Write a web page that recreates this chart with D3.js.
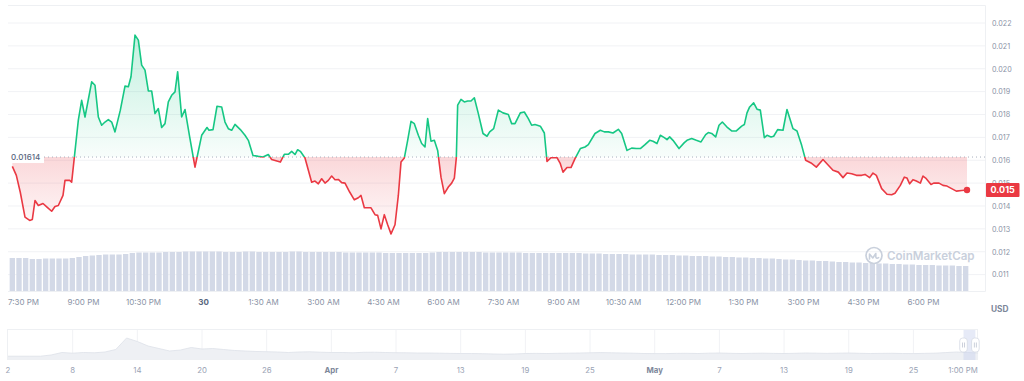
<!DOCTYPE html>
<html><head><meta charset="utf-8">
<script src="https://cdn.jsdelivr.net/npm/d3@7"></script>
<style>
html,body{margin:0;padding:0;background:#fff;}
svg{display:block;font-family:Inter,"Noto Sans",sans-serif;}
</style></head><body>
<svg id="c" width="1024" height="381"></svg>
<script>
// ---- DATA ----
// price series: [minutes since 00:00 of Mar 29, price USD]
const priceSeries = [
[1154,0.01573],[1160,0.01534],[1166,0.01459],[1173,0.01351],[1180,0.01337],[1184,0.01341],[1188,0.01424],[1193,0.01402],[1200,0.01411],[1206,0.01395],
[1213,0.01377],[1218,0.01398],[1223,0.01402],[1230,0.01446],[1233,0.01512],[1240,0.01512],[1243,0.01504],[1253,0.01775],[1258,0.01862],[1263,0.01789],
[1273,0.01943],[1278,0.01928],[1283,0.01789],[1288,0.01753],[1293,0.01767],[1298,0.01778],[1303,0.01767],[1308,0.01724],[1316,0.01819],[1323,0.01924],
[1328,0.01921],[1332,0.01965],[1338,0.02147],[1343,0.02125],[1348,0.02016],[1353,0.01994],[1358,0.01903],[1363,0.01903],[1368,0.01804],[1373,0.01826],
[1378,0.01743],[1383,0.01760],[1388,0.01855],[1393,0.01884],[1398,0.01899],[1402,0.01987],[1408,0.01789],[1413,0.01822],[1420,0.01702],[1428,0.01570],
[1438,0.01709],[1446,0.01743],[1449,0.01731],[1455,0.01734],[1461,0.01836],[1468,0.01833],[1473,0.01767],[1478,0.01738],[1483,0.01731],[1488,0.01757],
[1496,0.01734],[1503,0.01709],[1508,0.01687],[1515,0.01621],[1523,0.01617],[1530,0.01614],[1538,0.01625],[1543,0.01603],[1556,0.01592],[1562,0.01626],
[1568,0.01626],[1573,0.01639],[1578,0.01625],[1582,0.01646],[1586,0.01639],[1593,0.01610],[1603,0.01504],[1608,0.01509],[1613,0.01497],[1618,0.01519],
[1623,0.01500],[1628,0.01512],[1633,0.01531],[1638,0.01515],[1643,0.01516],[1648,0.01502],[1653,0.01500],[1660,0.01461],[1667,0.01427],[1673,0.01436],
[1677,0.01446],[1682,0.01392],[1692,0.01392],[1698,0.01362],[1702,0.01359],[1707,0.01300],[1712,0.01362],[1717,0.01318],[1722,0.01278],[1728,0.01318],
[1733,0.01446],[1737,0.01592],[1742,0.01610],[1747,0.01687],[1752,0.01770],[1757,0.01760],[1763,0.01709],[1768,0.01673],[1773,0.01658],[1777,0.01782],
[1782,0.01683],[1787,0.01687],[1792,0.01643],[1797,0.01526],[1802,0.01454],[1808,0.01483],[1813,0.01500],[1817,0.01522],[1820,0.01611],[1822,0.01841],
[1827,0.01866],[1832,0.01855],[1837,0.01859],[1842,0.01859],[1847,0.01873],[1853,0.01804],[1860,0.01717],[1866,0.01705],[1870,0.01724],[1876,0.01738],
[1883,0.01819],[1890,0.01807],[1898,0.01800],[1903,0.01760],[1908,0.01760],[1916,0.01807],[1922,0.01811],[1928,0.01782],[1933,0.01753],[1938,0.01756],
[1946,0.01749],[1952,0.01719],[1956,0.01595],[1962,0.01611],[1971,0.01611],[1976,0.01585],[1980,0.01548],[1986,0.01568],[1992,0.01568],[1998,0.01607],
[2006,0.01651],[2013,0.01658],[2018,0.01668],[2028,0.01717],[2036,0.01731],[2042,0.01724],[2048,0.01724],[2055,0.01719],[2063,0.01735],[2068,0.01717],
[2076,0.01643],[2083,0.01653],[2090,0.01651],[2096,0.01651],[2103,0.01668],[2110,0.01687],[2115,0.01683],[2121,0.01673],[2126,0.01709],[2132,0.01699],
[2136,0.01690],[2140,0.01702],[2145,0.01687],[2154,0.01651],[2162,0.01677],[2166,0.01687],[2173,0.01695],[2180,0.01687],[2187,0.01680],[2194,0.01712],
[2198,0.01721],[2203,0.01717],[2209,0.01702],[2214,0.01753],[2219,0.01767],[2226,0.01745],[2233,0.01728],[2240,0.01728],[2248,0.01749],[2252,0.01756],
[2256,0.01807],[2260,0.01833],[2266,0.01851],[2271,0.01823],[2276,0.01819],[2282,0.01699],[2286,0.01709],[2292,0.01702],[2296,0.01705],[2302,0.01734],
[2310,0.01731],[2316,0.01822],[2325,0.01738],[2331,0.01728],[2338,0.01665],[2344,0.01600],[2352,0.01588],[2360,0.01570],[2370,0.01603],[2378,0.01578],
[2385,0.01556],[2393,0.01548],[2400,0.01524],[2406,0.01544],[2413,0.01541],[2420,0.01534],[2428,0.01534],[2433,0.01538],[2440,0.01524],[2445,0.01544],
[2450,0.01534],[2458,0.01476],[2466,0.01451],[2473,0.01449],[2478,0.01456],[2486,0.01490],[2492,0.01526],[2496,0.01522],[2500,0.01497],[2505,0.01515],
[2510,0.01509],[2516,0.01500],[2520,0.01531],[2524,0.01522],[2532,0.01494],[2536,0.01500],[2544,0.01500],[2550,0.01490],[2556,0.01487],[2563,0.01476],
[2570,0.01465],[2578,0.01468],[2586,0.01470]
];
const baselinePrice = 0.01614;
const baselineLabel = "0.01614";
const lastPriceLabel = "0.015";

// volume bars, one every 10 minutes starting at minute 1154 (relative units)
const volumeStart = 1154, volumeStep = 10;
const volumeValues = [
33,33,33,32,32,32.5,32.5,32.5,32.5,33,34,35,35.5,36,36.5,36.5,36.5,37,38,38.5,38.5,38.5,38.5,39,39,39,39.5,39.5,39.5,39.5,39.5,
39.5,39,39,39,39.5,39.5,39,39,39,39,39,39.5,39.5,39,39,
39,39,39,39,38.5,38.5,38.5,38.5,38.5,38.5,38,38,38,38,38,
38,38,38.5,39,39,39,39,39,39,39,
38.5,38.5,38.5,38.5,38.5,38.5,38,38,38,38,38,38,38,38,38,
37.5,37.5,37.5,37,37,37,37,36.5,36.5,36.5,36.5,36,36,36,35.5,
35.5,35,35,35,34.5,34.5,34,34,33.5,33.5,33,33,32.5,32.5,32,
31.5,31.5,31,30.5,30.5,30,30,29.5,29,29,28.5,28.5,28,28,27.5,
27.5,27,27,26.5,26.5,26,26,26,25.5,25.5,25.5,25,25
];

const yTickValues = [0.011,0.012,0.013,0.014,0.015,0.016,0.017,0.018,0.019,0.020,0.021,0.022];
const xTickTimes  = [1170,1260,1350,1440,1530,1620,1710,1800,1890,1980,2070,2160,2250,2340,2430,2520];
const xTickLabels = ["7:30 PM","9:00 PM","10:30 PM","30","1:30 AM","3:00 AM","4:30 AM","6:00 AM","7:30 AM","9:00 AM","10:30 AM","12:00 PM","1:30 PM","3:00 PM","4:30 PM","6:00 PM"];
const xBoldLabels = ["30"];
const currencyLabel = "USD";

// navigator: daily price from Mar 2
const navValues = [
0.0078,0.0078,0.0078,0.0078,0.0107,0.0166,0.0150,0.0166,0.0159,0.0178,0.0237,0.0510,0.0427,0.0320,0.0261,0.0202,0.0225,0.0285,0.0249,0.0261,
0.0237,0.0214,0.0202,0.0190,0.0185,0.0178,0.0166,0.0178,0.0183,0.0173,0.0166,0.0166,0.0159,0.0171,0.0173,0.0166,0.0161,0.0159,0.0154,0.0154,
0.0150,0.0145,0.0142,0.0142,0.0138,0.0131,0.0126,0.0131,0.0142,0.0145,0.0142,0.0147,0.0150,0.0154,0.0159,0.0164,0.0159,0.0154,0.0150,0.0142,
0.0140,0.0140,0.0145,0.0147,0.0142,0.0150,0.0154,0.0147,0.0142,0.0147,0.0150,0.0145,0.0142,0.0147,0.0154,0.0150,0.0145,0.0150,0.0154,0.0147,
0.0142,0.0145,0.0147,0.0142,0.0140,0.0145,0.0150,0.0164,0.0178,0.0166,0.0154
];
const navTickDays   = [0,6,12,18,24,30,36,42,48,54,60,66,72,78,84,88.6];
const navTickLabels = ["2","8","14","20","26","Apr","7","13","19","25","May","7","13","19","25","1:00 PM"];
const navBoldLabels = ["Apr","May"];
const navSelection  = [88.65, 89.75];
const watermarkText = "CoinMarketCap";

// ---- DRAW ----
const GREEN = "#16c784", RED = "#ea3943";
const svg = d3.select("#c");
const P = {left:8, right:985, top:5, bottom:291};

const x = d3.scaleLinear().domain([1147.5, 2613]).range([P.left, P.right]);
const y = d3.scaleLinear().domain([0.011, 0.022]).range([274.6, 23]);
const yVol = d3.scaleLinear().domain([0, 50]).range([P.bottom, P.bottom - 50]);
const yBase = y(baselinePrice);

const defs = svg.append("defs");
const gG = defs.append("linearGradient").attr("id","gG").attr("gradientUnits","userSpaceOnUse")
  .attr("x1",0).attr("x2",0).attr("y1",y(0.0215)).attr("y2",yBase);
gG.append("stop").attr("offset",0).attr("stop-color",GREEN).attr("stop-opacity",0.26);
gG.append("stop").attr("offset",1).attr("stop-color",GREEN).attr("stop-opacity",0.03);
const gR = defs.append("linearGradient").attr("id","gR").attr("gradientUnits","userSpaceOnUse")
  .attr("x1",0).attr("x2",0).attr("y1",yBase).attr("y2",y(0.0128));
gR.append("stop").attr("offset",0).attr("stop-color",RED).attr("stop-opacity",0.2);
gR.append("stop").attr("offset",1).attr("stop-color",RED).attr("stop-opacity",0.02);
defs.append("clipPath").attr("id","cAbove").append("rect")
  .attr("x",0).attr("y",0).attr("width",1024).attr("height",yBase);
defs.append("clipPath").attr("id","cBelow").append("rect")
  .attr("x",0).attr("y",yBase).attr("width",1024).attr("height",P.bottom-yBase);

// grid lines
svg.append("g").selectAll("line").data(yTickValues).join("line")
  .attr("x1",P.left).attr("x2",P.right).attr("y1",d=>y(d)).attr("y2",d=>y(d))
  .attr("stroke","#f1f2f5").attr("stroke-width",1);
// plot border (top, right, bottom)
svg.append("path").attr("d",`M${P.left},${P.top+0.5}H${P.right+0.5}V${P.bottom+0.5}H${P.left}`)
  .attr("fill","none").attr("stroke","#eef0f3").attr("stroke-width",1);

// volume bars
const barW = (x(volumeStep) - x(0)) - 1.3;
svg.append("g").selectAll("rect").data(volumeValues).join("rect")
  .attr("x",(d,i)=>x(volumeStart + i*volumeStep) - barW/2)
  .attr("width",barW)
  .attr("y",d=>yVol(d))
  .attr("height",d=>yVol(0)-yVol(d))
  .attr("fill","#d3d9e7");

// watermark
const wm = svg.append("g").attr("transform","translate(874,255.5)").attr("fill","none").attr("stroke","#c9d0dc");
wm.append("circle").attr("r",8).attr("stroke-width",1.7);
wm.append("path").attr("d","M-4.5,3.5 V-1.5 L-1.2,2.5 L1.8,-2 V1.5 Q2.5,3.6 4.6,2.2").attr("stroke-width",1.6).attr("stroke-linejoin","round").attr("stroke-linecap","round");
svg.append("text").attr("x",887).attr("y",255.5).attr("dominant-baseline","central")
  .attr("font-size",11.6).attr("font-weight",600).attr("fill","#c9d0dc").text(watermarkText);

// areas
const area = d3.area().x(d=>x(d[0])).y0(yBase).y1(d=>y(d[1]));
svg.append("path").datum(priceSeries).attr("d",area).attr("fill","url(#gG)").attr("clip-path","url(#cAbove)");
svg.append("path").datum(priceSeries).attr("d",area).attr("fill","url(#gR)").attr("clip-path","url(#cBelow)");

// baseline dotted
svg.append("line").attr("x1",P.left).attr("x2",P.right).attr("y1",yBase).attr("y2",yBase)
  .attr("stroke","#a8afbd").attr("stroke-width",1).attr("stroke-dasharray","1,3");

// lines
const line = d3.line().x(d=>x(d[0])).y(d=>y(d[1]));
svg.append("path").datum(priceSeries).attr("d",line).attr("fill","none").attr("stroke",GREEN)
  .attr("stroke-width",1.6).attr("stroke-linejoin","round").attr("clip-path","url(#cAbove)");
svg.append("path").datum(priceSeries).attr("d",line).attr("fill","none").attr("stroke",RED)
  .attr("stroke-width",1.6).attr("stroke-linejoin","round").attr("clip-path","url(#cBelow)");

// baseline label
const bl = svg.append("g");
bl.append("rect").attr("x",P.left).attr("y",yBase-6).attr("width",36).attr("height",12).attr("fill","#fff");
bl.append("text").attr("x",11).attr("y",yBase).attr("dominant-baseline","central")
  .attr("font-size",8).attr("font-weight",500).attr("fill","#58667e").text(baselineLabel);

// last point
const last = priceSeries[priceSeries.length-1];
svg.append("circle").attr("cx",x(last[0])).attr("cy",y(last[1])).attr("r",3.2).attr("fill",RED);

// y axis
const yAxis = d3.axisRight(y).tickValues(yTickValues).tickSize(0).tickPadding(7).tickFormat(d3.format(".3f"));
const gy = svg.append("g").attr("transform",`translate(${P.right},0)`).call(yAxis);
gy.select(".domain").remove();
gy.selectAll("text").attr("font-family","Inter").attr("font-size",7.2).attr("fill","#8a93a6");

// current price tag
const ly = y(last[1]);
svg.append("rect").attr("x",986).attr("y",ly-7).attr("width",33.5).attr("height",14).attr("fill",RED).attr("rx",1);
svg.append("text").attr("x",1002.7).attr("y",ly).attr("dominant-baseline","central").attr("text-anchor","middle")
  .attr("font-size",9).attr("font-weight",700).attr("fill","#fff").text(lastPriceLabel);

// x axis
const xAxis = d3.axisBottom(x).tickValues(xTickTimes).tickSize(0).tickPadding(8)
  .tickFormat((d,i)=>xTickLabels[i]);
const gx = svg.append("g").attr("transform",`translate(0,${P.bottom})`).call(xAxis);
gx.select(".domain").remove();
gx.selectAll("text").attr("font-family","Inter").attr("font-size",8).attr("fill","#8a93a6")
  .filter((d,i)=>xBoldLabels.includes(xTickLabels[i])).attr("font-weight",700).attr("fill","#58667e");

svg.append("text").attr("x",991).attr("y",309).attr("dominant-baseline","central")
  .attr("font-size",8.3).attr("font-weight",700).attr("fill","#7d879a").text(currencyLabel);

// navigator
const N = {left:8, right:977, top:330, bottom:360};
const nx = d3.scaleLinear().domain([0, 89.9]).range([N.left, N.right]);
const ny = d3.scaleLinear().domain([0, 0.07]).range([359.5, N.top]);
svg.append("g").selectAll("line").data(navTickDays.slice(1, -1)).join("line")
  .attr("x1",d=>nx(d)).attr("x2",d=>nx(d)).attr("y1",N.top).attr("y2",N.bottom)
  .attr("stroke","#f1f2f5");
svg.append("rect").attr("x",N.left-0.5).attr("y",N.top-0.5).attr("width",N.right-N.left+1).attr("height",N.bottom-N.top)
  .attr("fill","none").attr("stroke","#eef0f3");
const navArea = d3.area().x((d,i)=>nx(i)).y0(359.5).y1(d=>ny(d));
svg.append("path").datum(navValues).attr("d",navArea).attr("fill","#eef0f4");
svg.append("path").datum(navValues).attr("d",d3.line().x((d,i)=>nx(i)).y(d=>ny(d)))
  .attr("fill","none").attr("stroke","#dde1e9").attr("stroke-width",0.8);
// selection
svg.append("rect").attr("x",nx(navSelection[0])).attr("y",N.top).attr("width",nx(navSelection[1])-nx(navSelection[0]))
  .attr("height",N.bottom-N.top).attr("fill","#c7d0ee").attr("fill-opacity",0.45);
navSelection.forEach(s=>{
  const hx = nx(s);
  const h = svg.append("g").attr("transform",`translate(${hx},345)`);
  h.append("rect").attr("x",-3.8).attr("y",-7).attr("width",7.6).attr("height",14).attr("rx",3)
    .attr("fill","#fff").attr("stroke","#d6dbe5").attr("stroke-width",0.8);
  h.append("path").attr("d","M-1,-2.5V2.5M1,-2.5V2.5").attr("stroke","#b5bccb").attr("stroke-width",0.7);
});
// navigator labels
svg.append("g").selectAll("text").data(navTickDays).join("text")
  .attr("x",d=>nx(d)).attr("y",370).attr("text-anchor","middle").attr("dominant-baseline","central")
  .attr("font-size",7.8)
  .attr("font-weight",(d,i)=>navBoldLabels.includes(navTickLabels[i])?700:400)
  .attr("fill",(d,i)=>navBoldLabels.includes(navTickLabels[i])?"#7d879a":"#9aa3b5")
  .text((d,i)=>navTickLabels[i]);
</script>
</body></html>
